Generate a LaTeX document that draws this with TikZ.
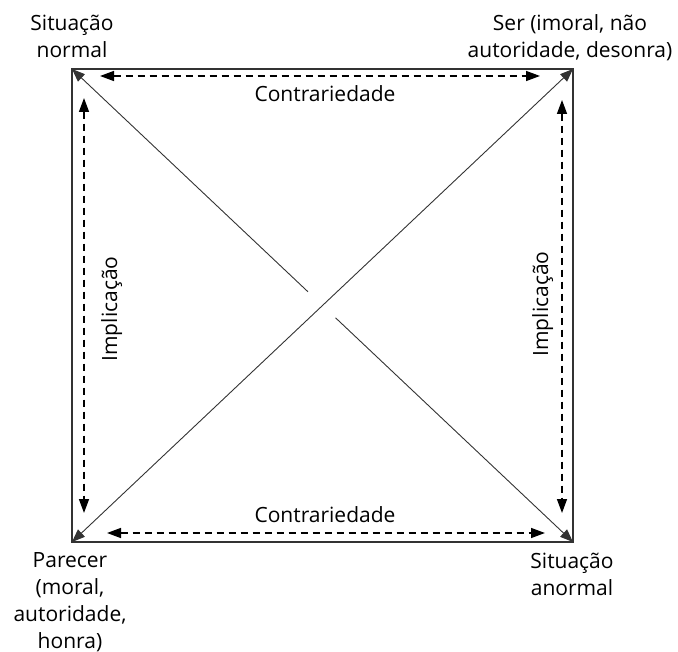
\documentclass[tikz,border=0pt]{standalone}
\usepackage{fontspec}
\setmainfont{Open Sans}
\usetikzlibrary{arrows.meta,calc}

\begin{document}
\begin{tikzpicture}[x=1pt,y=-1pt]
	\tikzstyle{mytext}=[font=\fontsize{21}{27}\selectfont,align=center,inner sep=0pt,anchor=base]
	\tikzstyle{myedge}=[black!80,line width=1.3pt]
	\tikzstyle{mydiag}=[black!80,line width=0.9pt,>={Triangle[length=13pt,width=10pt]}]
	\tikzstyle{mydash}=[line width=1.5pt,dash pattern=on 7pt off 5pt,>={Triangle[length=14pt,width=10pt]},<->]

	\useasboundingbox (0,0) rectangle (678,652);

	% corners of the square
	\coordinate (tl) at (72,69);
	\coordinate (tr) at (573,69);
	\coordinate (bl) at (72,542);
	\coordinate (br) at (573,542);

	\draw[myedge] (tl) rectangle (br);

	% diagonals, the first one broken at the crossing
	\draw[mydiag,<-] (tl) -- ($(tl)!0.471!(br)$);
	\draw[mydiag,->] ($(tl)!0.526!(br)$) -- (br);
	\draw[mydiag,<->] (bl) -- (tr);

	% ends of the dashed arrows along the sides
	\foreach \n / \x / \y in {ta/100/76,tb/540/76,ba/107/533,bb/545/533,la/84/98,lb/84/513,ra/562/100,rb/562/513} {
		\coordinate (\n) at (\x,\y);
	}
	\draw[mydash] (ta) -- (tb);
	\draw[mydash] (ba) -- (bb);
	\draw[mydash] (la) -- (lb);
	\draw[mydash] (ra) -- (rb);

	\node[mytext] (contra1) at (325,102) {Contrariedade};
	\node[mytext] (contra2) at (325,522) {Contrariedade};
	\node[mytext,rotate=90] (impl1) at (117,309) {Implicação};
	\node[mytext,rotate=90] (impl2) at (548,304) {Implicação};

	% corner labels (base = last line)
	\node[mytext] (normal) at (72,57.5) {Situação\\normal};
	\node[mytext] (ser) at (570,57.5) {Ser (imoral, não\\autoridade, desonra)};
	\node[mytext] (parecer) at (70,648) {Parecer\\(moral,\\autoridade,\\honra)};
	\node[mytext] (anormal) at (572,595) {Situação\\anormal};
\end{tikzpicture}
\end{document}
